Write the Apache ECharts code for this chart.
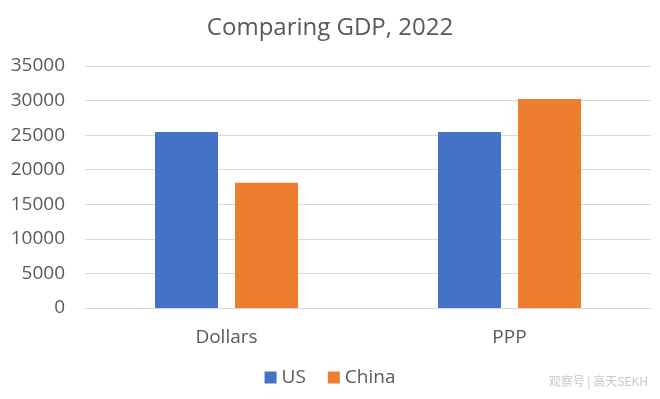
<!DOCTYPE html>
<html>
<head>
<meta charset="utf-8">
<script src="https://cdn.jsdelivr.net/npm/echarts@6/dist/echarts.min.js"></script>
<style>
  html, body { margin: 0; padding: 0; background: #fff; }
  #main { width: 660px; height: 399px; }
</style>
</head>
<body>
<div id="main"></div>
<script>
// 数据
var categories = ['Dollars', 'PPP'];
var us_values = [25460, 25460];
var china_values = [18100, 30220];
var series_names = ['US', 'China'];

var chart = echarts.init(document.getElementById('main'));
var txt = '#595959';
var font = 'Open Sans, Noto Sans, sans-serif';

var option = {
    backgroundColor: '#ffffff',
    animation: false,
    title: {
        text: 'Comparing GDP, 2022',
        left: 'center',
        top: 11,
        textStyle: { color: txt, fontSize: 24, fontWeight: 'normal', fontFamily: font }
    },
    legend: {
        data: series_names,
        bottom: 7,
        left: 'center',
        itemWidth: 12,
        itemHeight: 12,
        itemGap: 22,
        icon: 'rect',
        textStyle: { color: txt, fontSize: 19, fontFamily: font }
    },
    grid: {
        left: 85,
        right: 9,
        top: 66,
        bottom: 91
    },
    xAxis: {
        type: 'category',
        data: categories,
        axisTick: { show: false },
        axisLine: { lineStyle: { color: '#d9d9d9' } },
        axisLabel: { color: txt, fontSize: 19, fontFamily: font, margin: 20 }
    },
    yAxis: {
        type: 'value',
        min: 0,
        max: 35000,
        interval: 5000,
        axisLine: { show: false },
        axisTick: { show: false },
        splitLine: { lineStyle: { color: '#d9d9d9', width: 1 } },
        axisLabel: {
            color: txt, fontSize: 19, fontFamily: font, margin: 20,
            formatter: function (v) { return String(v); }
        }
    },
    series: [
        {
            name: series_names[0],
            type: 'bar',
            data: us_values,
            barWidth: 63,
            barGap: '27%',
            itemStyle: { color: '#4472c4' }
        },
        {
            name: series_names[1],
            type: 'bar',
            data: china_values,
            barWidth: 63,
            barGap: '27%',
            itemStyle: { color: '#ed7d31' }
        }
    ],
    graphic: [
        {
            type: 'text',
            right: 12,
            bottom: 12,
            style: {
                text: '观察号 | 高天SEKH',
                fill: '#c8c8c8',
                fontSize: 12,
                fontFamily: 'Noto Sans CJK SC, sans-serif'
            }
        }
    ]
};

chart.setOption(option);
</script>
</body>
</html>
